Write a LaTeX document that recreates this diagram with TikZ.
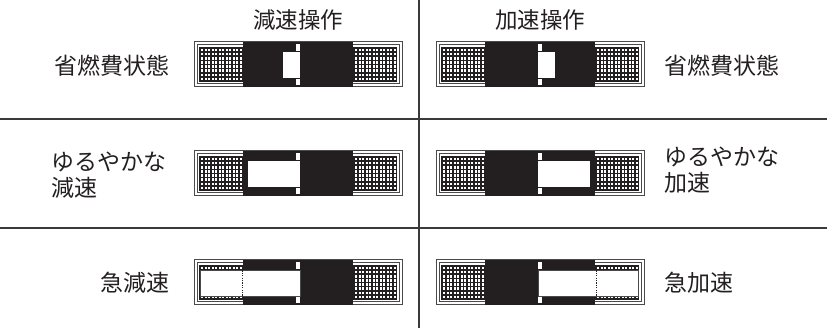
\documentclass[tikz,border=0pt]{standalone}
\usepackage{fontspec}
\newfontfamily\cjk{Noto Sans CJK JP}
\definecolor{barblack}{HTML}{231F20}
\definecolor{framecol}{HTML}{4A4A4A}
\definecolor{gridcol}{HTML}{3A3A3A}
\newcommand\texfull[4]{%
  \fill[barblack] (#1,#2) rectangle (#3,#4);
  \foreach \i in {0,...,11}{\foreach \j in {0,...,7}{
    \fill[white] ({#1+2+3.5*\i},{#2+2+4.1*\j}) rectangle ++(2.2,2.4);}}%
}
\newcommand\texedge[4]{%
  \fill[barblack] (#1,#2) rectangle (#3,#4);
  \foreach \i in {0,...,11}{
    \fill[white] ({#1+2+3.5*\i},{#2+1.6}) rectangle ++(2.2,2);
    \fill[white] ({#1+2+3.5*\i},{#4-3.6}) rectangle ++(2.2,2);}%
}
% #1 centre x, #2 top y, #3 #4 white rect offsets, #5 #6 left/right texture macros
\newcommand\fbar[6]{%
  \draw[framecol, line width=1] ({#1-104},#2) rectangle ({#1+104},{#2+45});
  \draw[framecol, line width=1] ({#1-101},{#2+3}) rectangle ({#1+101},{#2+42});
  #5{#1-99}{#2+5}{#1-55}{#2+40}
  #6{#1+55}{#2+5}{#1+99}{#2+40}
  \fill[barblack] ({#1-55},#2) rectangle ({#1+55},{#2+45});
  \fill[white] ({#1-2},{#2+2}) rectangle ({#1+2},{#2+9});
  \fill[white] ({#1-2},{#2+37}) rectangle ({#1+2},{#2+43.5});
  \fill[white] ({#1+#3},{#2+10}) rectangle ({#1+#4},{#2+36});
}
\begin{document}
\begin{tikzpicture}[x=1pt,y=-1pt,
  lbl/.style={inner sep=0pt, font=\cjk\fontsize{23}{26}\selectfont, text=barblack},
  head/.style={inner sep=0pt, font=\cjk\fontsize{22.5}{25}\selectfont, text=barblack},
  gridline/.style={gridcol, line width=1.4}]
\useasboundingbox (0,0) rectangle (827,328);
% grid
\draw[gridline] (0,119) -- (827,119);
\draw[gridline] (0,228) -- (827,228);
\draw[gridline] (419,0) -- (419,328);
% headings
\node[head] (h1) at (298,20) {減速操作};
\node[head] (h2) at (540,20) {加速操作};
% bars
\fbar{298}{42}{-15}{2}{\texfull}{\texfull}
\fbar{540}{42}{-2}{15}{\texfull}{\texfull}
\fbar{298}{151}{-50}{2}{\texfull}{\texfull}
\fbar{540}{151}{-2}{50}{\texfull}{\texfull}
\fbar{298}{260}{-98}{2}{\texedge}{\texfull}
\fbar{540}{260}{-2}{98}{\texfull}{\texedge}
% outlines and dotted lines of row 3
\draw[framecol, line width=0.8] (200,270) rectangle (300,296);
\draw[framecol, line width=0.8] (538,270) rectangle (638,296);
\draw[barblack, line width=1.2, dash pattern=on 1.2pt off 1.2pt] (242.5,270.5) -- (242.5,296);
\draw[barblack, line width=1.2, dash pattern=on 1.2pt off 1.2pt] (596.5,270.5) -- (596.5,296);
% labels
\node[lbl, anchor=east] (l1) at (170,66) {省燃費状態};
\node[lbl, anchor=west] (r1) at (664,66) {省燃費状態};
\node[lbl, anchor=west, align=left] (l2) at (51,175) {ゆるやかな\\減速};
\node[lbl, anchor=west, align=left] (r2) at (664,170) {ゆるやかな\\加速};
\node[lbl, anchor=east] (l3) at (170,283) {急減速};
\node[lbl, anchor=west] (r3) at (664,283) {急加速};
\end{tikzpicture}
\end{document}
